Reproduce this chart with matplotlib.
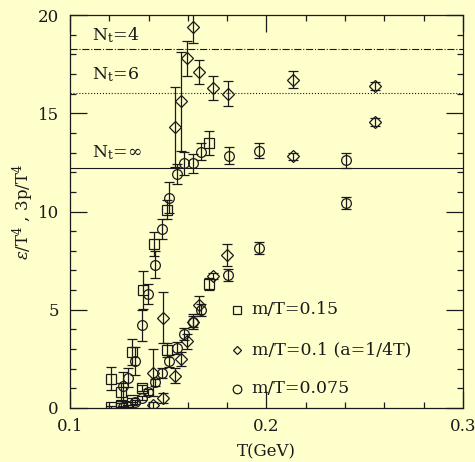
import matplotlib
matplotlib.use('Agg')
import matplotlib.pyplot as plt
from matplotlib.ticker import MultipleLocator

# m/T=0.15 (squares): energy density and 3p
sq_eps_T = [0.1207, 0.1260, 0.1315, 0.1370, 0.1429, 0.1492, 0.1707]
sq_eps = [1.5, 0.8, 2.85, 6.0, 8.35, 10.1, 13.5]
sq_eps_err = [0.6, 0.45, 0.65, 0.95, 0.6, 0.5, 0.6]
sq_p_T = [0.1207, 0.1260, 0.1315, 0.1368, 0.1492, 0.1707]
sq_p = [0.05, 0.15, 0.4, 1.0, 2.95, 6.3]
sq_p_err = [0.05, 0.1, 0.1, 0.15, 0.35, 0.3]

# m/T=0.1, a=1/4T (diamonds)
di_eps_T = [0.1424, 0.1475, 0.1534, 0.1563, 0.1594, 0.1624, 0.1658, 0.1730, 0.1802, 0.2135, 0.2552]
di_eps = [1.8, 4.6, 14.3, 15.6, 17.8, 19.4, 17.1, 16.3, 16.0, 16.7, 16.4]
di_eps_err = [1.2, 1.3, 2.05, 2.5, 0.9, 0.8, 0.6, 0.6, 0.62, 0.43, 0.2]
di_p_T = [0.1421, 0.1475, 0.1534, 0.1565, 0.1594, 0.1628, 0.1658, 0.1726, 0.1797, 0.2135, 0.2552]
di_p = [0.15, 0.5, 1.65, 2.5, 3.4, 4.4, 5.25, 6.7, 7.8, 12.8, 14.55]
di_p_err = [0.15, 0.25, 0.38, 0.35, 0.38, 0.4, 0.45, 0.15, 0.55, 0.2, 0.2]

# m/T=0.075 (circles)
ci_eps_T = [0.1272, 0.1297, 0.1331, 0.1365, 0.1398, 0.1433, 0.1470, 0.1505, 0.1543,
            0.1582, 0.1624, 0.1667, 0.1811, 0.1963, 0.2403]
ci_eps = [1.1, 1.55, 2.4, 4.2, 5.8, 7.3, 9.1, 10.7, 11.9, 12.45, 12.45, 13.05, 12.85, 13.1, 12.6]
ci_eps_err = [0.75, 0.5, 0.7, 0.8, 0.5, 0.7, 0.5, 0.8, 0.5, 0.6, 0.5, 0.45, 0.45, 0.4, 0.4]
ci_p_T = [0.1268, 0.1297, 0.1331, 0.1365, 0.1398, 0.1433, 0.1470, 0.1505, 0.1543,
          0.1582, 0.1624, 0.1667, 0.1806, 0.1962, 0.2403]
ci_p = [0.07, 0.12, 0.3, 0.5, 0.8, 1.3, 1.8, 2.4, 3.05, 3.75, 4.4, 5.0, 6.75, 8.15, 10.45]
ci_p_err = [0.05, 0.05, 0.1, 0.1, 0.15, 0.2, 0.25, 0.3, 0.3, 0.3, 0.3, 0.3, 0.3, 0.3, 0.3]

# lattice reference lines
nt_labels = ['$\\mathregular{N_t}$=4', '$\\mathregular{N_t}$=6', '$\\mathregular{N_t}$=$\\infty$']
nt_values = [18.27, 16.05, 12.2]
nt_styles = ['-.', ':', '-']
nt_text_y = [19.0, 16.95, 13.0]

legend_labels = ['m/T=0.15', 'm/T=0.1 (a=1/4T)', 'm/T=0.075']
legend_y = [5.0, 2.95, 0.97]

bg = '#ffffcc'
ink = '#1a1a1a'
plt.rcParams['font.family'] = 'DejaVu Serif'
plt.rcParams['mathtext.fontset'] = 'dejavuserif'

fig = plt.figure(figsize=(4.75, 4.62), dpi=100, facecolor=bg)
ax = fig.add_axes([0.1474, 0.1169, 0.8273, 0.8506], facecolor=bg)

common = dict(linestyle='none', mfc='none', mec=ink, ecolor=ink, elinewidth=0.9,
              capsize=3.5, capthick=0.9, mew=0.9)
for T, y, e in [(sq_eps_T, sq_eps, sq_eps_err), (sq_p_T, sq_p, sq_p_err)]:
    ax.errorbar(T, y, yerr=e, marker='s', ms=6.5, **common)
for T, y, e in [(di_eps_T, di_eps, di_eps_err), (di_p_T, di_p, di_p_err)]:
    ax.errorbar(T, y, yerr=e, marker='D', ms=6.3, **common)
for T, y, e in [(ci_eps_T, ci_eps, ci_eps_err), (ci_p_T, ci_p, ci_p_err)]:
    ax.errorbar(T, y, yerr=e, marker='o', ms=7, **common)

for lab, val, ls, ty in zip(nt_labels, nt_values, nt_styles, nt_text_y):
    ax.axhline(val, color=ink, lw=0.8, ls=ls)
    ax.text(0.1112, ty, lab, fontsize=12.5, va='center', ha='left', color=ink)

for lab, ly, mk in zip(legend_labels, legend_y, ['s', 'D', 'o']):
    ax.plot([0.1848], [ly], marker=mk, ms=6.2 if mk != 'D' else 4.5,
            mfc='none', mec=ink, mew=0.9, linestyle='none')
    ax.text(0.1925, ly, lab, fontsize=12.5, va='center', ha='left', color=ink)

ax.set_xlim(0.1, 0.3)
ax.set_ylim(0, 20)
ax.xaxis.set_major_locator(MultipleLocator(0.1))
ax.xaxis.set_minor_locator(MultipleLocator(0.02))
ax.yaxis.set_major_locator(MultipleLocator(5))
ax.yaxis.set_minor_locator(MultipleLocator(1))
ax.tick_params(which='both', direction='in', top=True, right=True, colors=ink,
               labelsize=12, width=0.9)
ax.tick_params(which='major', length=12, pad=7)
ax.tick_params(axis='y', which='major', pad=8)
ax.tick_params(which='minor', length=4.3)
for s in ax.spines.values():
    s.set_color(ink)
    s.set_linewidth(0.9)

ax.set_xlabel('T(GeV)', fontsize=12, color=ink, labelpad=6)
ax.set_ylabel('$\\epsilon/\\mathregular{T}^4$ , 3p/$\\mathregular{T}^4$', fontsize=12,
              color=ink, labelpad=1)

fig.savefig('out.png', dpi=100, facecolor=bg)
